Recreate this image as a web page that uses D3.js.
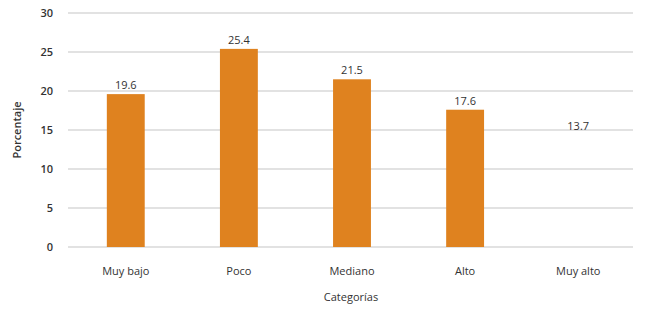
<!DOCTYPE html>
<html><head><meta charset="utf-8">
<script src="https://cdn.jsdelivr.net/npm/d3@7"></script>
<style>body{margin:0;background:#fff;} text{font-family:"Open Sans","Noto Sans",sans-serif;}</style>
</head><body>
<svg id="c" width="650" height="309"></svg>
<script>
const categories = ["Muy bajo","Poco","Mediano","Alto","Muy alto"];
const values = [19.6, 25.4, 21.5, 17.6, 13.7];
const barColors = ["#DF821F","#DF821F","#DF821F","#DF821F","none"];
const yTicks = [0,5,10,15,20,25,30];

const svg = d3.select("#c");
const x = d3.scaleBand().domain(categories).range([69.5,634.5]).paddingInner(0.665).paddingOuter(0.33);
const y = d3.scaleLinear().domain([0,30]).range([247,13]);

// gridlines
svg.append("g").selectAll("line").data(yTicks).join("line")
  .attr("x1",68).attr("x2",633)
  .attr("y1",d=>y(d)).attr("y2",d=>y(d))
  .attr("stroke","#d9d9d9").attr("stroke-width",1.5);

// y tick labels
svg.append("g").selectAll("text").data(yTicks).join("text")
  .attr("x",53).attr("y",d=>y(d)).attr("dy","0.35em")
  .attr("text-anchor","end").attr("font-size",11).attr("font-weight",600).attr("fill","#333")
  .text(d=>d);

// bars
svg.append("g").selectAll("rect").data(values).join("rect")
  .attr("x",(d,i)=>x(categories[i])).attr("width",x.bandwidth())
  .attr("y",d=>y(d)).attr("height",d=>y(0)-y(d))
  .attr("fill",(d,i)=>barColors[i]);

// value labels
svg.append("g").selectAll("text").data(values).join("text")
  .attr("x",(d,i)=>x(categories[i])+x.bandwidth()/2).attr("y",(d,i)=>y(d)-(i===4?10:5))
  .attr("text-anchor","middle").attr("font-size",11).attr("font-weight",500).attr("fill","#333")
  .text(d=>d.toFixed(1));

// category labels
svg.append("g").selectAll("text").data(categories).join("text")
  .attr("x",d=>x(d)+x.bandwidth()/2).attr("y",275)
  .attr("text-anchor","middle").attr("font-size",11).attr("font-weight",500).attr("fill","#333")
  .text(d=>d);

svg.append("text").attr("x",351).attr("y",301).attr("text-anchor","middle")
  .attr("font-size",11).attr("font-weight",500).attr("fill","#333").text("Categorías");

svg.append("text").attr("transform","translate(21,130) rotate(-90)").attr("text-anchor","middle")
  .attr("font-size",11).attr("font-weight",600).attr("fill","#333").text("Porcentaje");
</script>
</body></html>
